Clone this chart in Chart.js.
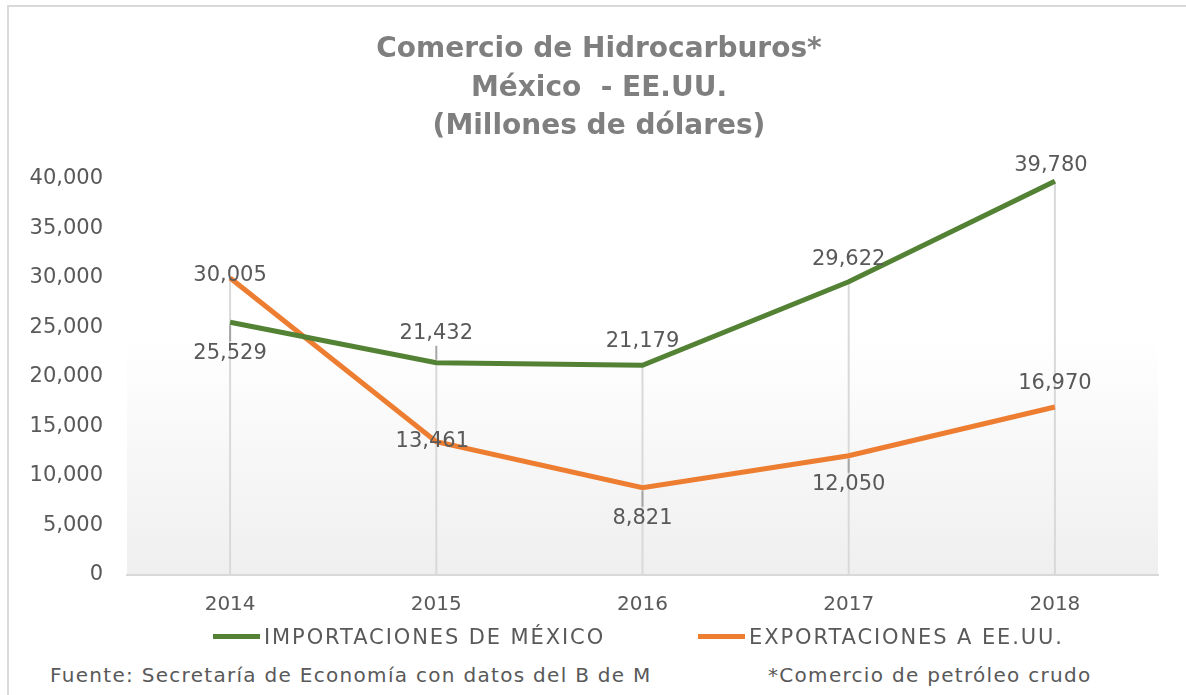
<!DOCTYPE html>
<html>
<head>
<meta charset="utf-8">
<script src="https://cdn.jsdelivr.net/npm/chart.js@4/dist/chart.umd.min.js"></script>
<style>
  body { margin: 0; background: #fff; font-family: "DejaVu Sans", sans-serif; color: #595959; }
  #frame { position: absolute; left: 7px; top: 5px; width: 1220px; height: 720px; border: 2px solid #d9d9d9; box-sizing: border-box; }
  #title { position: absolute; left: 0; top: 29px; width: 1198px; text-align: center; color: #7f7f7f;
           font-size: 28px; font-weight: bold; line-height: 38.6px; white-space: pre; }
  #wrap { position: absolute; left: 0; top: 0; width: 1186px; height: 635px; }
  .leg { position: absolute; top: 624px; font-size: 21px; letter-spacing: 1.9px; line-height: 26px; white-space: nowrap; }
  .leg i { display: inline-block; width: 47px; height: 5px; vertical-align: middle; margin-right: 4px; position: relative; top: -2px; }
  .foot { position: absolute; top: 662px; font-size: 20px; letter-spacing: 1.3px; line-height: 26px; white-space: nowrap; }
</style>
</head>
<body>
<div id="frame"></div>
<div id="wrap"><canvas id="chart"></canvas></div>
<div id="title"></div>
<div class="leg" id="leg1" style="left:213px"></div>
<div class="leg" id="leg2" style="left:698px"></div>
<div class="foot" style="left:50px">Fuente: Secretaría de Economía con datos del B de M</div>
<div class="foot" style="left:768px">*Comercio de petróleo crudo</div>
<script>
const TITLE = ['Comercio de Hidrocarburos*', 'México  - EE.UU.', '(Millones de dólares)'];
const YEARS = ['2014', '2015', '2016', '2017', '2018'];
const IMPORTACIONES = [25529, 21432, 21179, 29622, 39780];
const EXPORTACIONES = [30005, 13461, 8821, 12050, 16970];
const SERIES_NAMES = ['IMPORTACIONES DE MÉXICO', 'EXPORTACIONES A EE.UU.'];

const GREEN = '#548235';
const ORANGE = '#ed7d31';
const TEXT = '#595959';

// label placement (pixels from the point, + is down)
const LABEL_DY = [
    [31, -29, -24, -22, -16],
    [-2, 0, 31, 29, -23],
];
const LABEL_DX = [
    [0, 0, 0, 0, -4],
    [0, -4, 0, 0, 0],
];

const fmt = v => v.toLocaleString('en-US');

const extras = {
    id: 'extras',
    beforeDraw(chart) {
        const {ctx, chartArea: a} = chart;
        const g = ctx.createLinearGradient(0, a.top, 0, a.bottom);
        g.addColorStop(0, '#ffffff');
        g.addColorStop(0.4, '#ffffff');
        g.addColorStop(1, '#efefef');
        ctx.save();
        ctx.fillStyle = g;
        ctx.fillRect(a.left, a.top, a.right - a.left, a.bottom - a.top);
        ctx.restore();
    },
    beforeDatasetsDraw(chart) {
        const {ctx, scales: {x, y}} = chart;
        ctx.save();
        ctx.strokeStyle = '#d9d9d9';
        ctx.lineWidth = 2;
        YEARS.forEach((yr, i) => {
            const top = Math.max(IMPORTACIONES[i], EXPORTACIONES[i]);
            const px = x.getPixelForValue(i);
            ctx.beginPath();
            ctx.moveTo(px, y.getPixelForValue(0));
            ctx.lineTo(px, y.getPixelForValue(top));
            ctx.stroke();
        });
        ctx.restore();
    },
    afterDatasetsDraw(chart) {
        const {ctx, scales: {x, y}} = chart;
        ctx.save();
        ctx.font = '21px "DejaVu Sans"';
        ctx.fillStyle = TEXT;
        ctx.textAlign = 'center';
        ctx.textBaseline = 'middle';
        chart.data.datasets.forEach((ds, s) => {
            ds.data.forEach((v, i) => {
                const px = x.getPixelForValue(i);
                const py = y.getPixelForValue(v);
                const dy = LABEL_DY[s][i];
                const lx = px + LABEL_DX[s][i];
                const ly = py + dy;
                if (Math.abs(dy) > 25) {
                    const dir = Math.sign(dy);
                    ctx.strokeStyle = '#a6a6a6';
                    ctx.lineWidth = 2;
                    ctx.beginPath();
                    ctx.moveTo(px, py + dir * 3);
                    ctx.lineTo(px, ly - dir * 12);
                    ctx.stroke();
                }
                ctx.fillText(fmt(v), lx, ly);
            });
        });
        ctx.restore();
    }
};

new Chart(document.getElementById('chart'), {
    type: 'line',
    data: {
        labels: YEARS,
        datasets: [
            {
                label: SERIES_NAMES[0],
                data: IMPORTACIONES,
                borderColor: GREEN,
                backgroundColor: GREEN,
                borderWidth: 5,
                pointRadius: 0,
                tension: 0,
            },
            {
                label: SERIES_NAMES[1],
                data: EXPORTACIONES,
                borderColor: ORANGE,
                backgroundColor: ORANGE,
                borderWidth: 5,
                pointRadius: 0,
                tension: 0,
            },
        ]
    },
    options: {
        responsive: true,
        maintainAspectRatio: false,
        animation: false,
        layout: { padding: { left: 0, right: 28, top: 179, bottom: 0 } },
        scales: {
            x: {
                offset: true,
                grid: { display: false, drawTicks: false },
                border: { color: '#d9d9d9', width: 2 },
                ticks: { color: TEXT, font: { family: 'DejaVu Sans', size: 20 }, padding: 18 },
            },
            y: {
                min: 0,
                max: 40000,
                afterFit: s => { s.width = 127; },
                grid: { display: false, drawTicks: false },
                border: { display: false },
                ticks: {
                    stepSize: 5000,
                    color: TEXT,
                    padding: 24,
                    font: { family: 'DejaVu Sans', size: 21 },
                    callback: v => fmt(v),
                },
            },
        },
        plugins: {
            legend: { display: false },
            tooltip: { enabled: false },
        },
    },
    plugins: [extras],
});

document.getElementById('title').textContent = TITLE.join('\n');
document.getElementById('leg1').innerHTML = '<i style="background:' + GREEN + '"></i>' + SERIES_NAMES[0];
document.getElementById('leg2').innerHTML = '<i style="background:' + ORANGE + '"></i>' + SERIES_NAMES[1];
</script>
</body>
</html>
